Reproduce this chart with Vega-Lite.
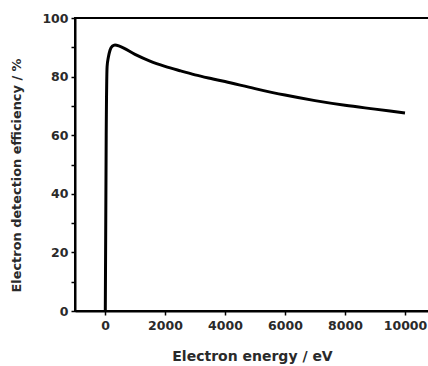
{
  "$schema": "https://vega.github.io/schema/vega-lite/v6.json",
  "autosize": "none",
  "padding": {"left": 75, "top": 18, "right": 0, "bottom": 55},
  "width": 354,
  "height": 293,
  "config": {
    "view": {"stroke": "black", "strokeWidth": 2},
    "font": "DejaVu Sans",
    "axis": {
      "labelFont": "DejaVu Sans",
      "labelFontWeight": "bold",
      "labelFontSize": 12.5,
      "labelColor": "#2a2a2a",
      "titleFont": "DejaVu Sans",
      "titleFontWeight": "bold",
      "titleColor": "#2a2a2a",
      "domainColor": "black",
      "domainWidth": 2,
      "tickColor": "black",
      "tickWidth": 1.5,
      "tickSize": 4,
      "grid": false
    }
  },
  "data": {
    "values": [
      {"energy": 10, "eff": 0},
      {"energy": 40, "eff": 60},
      {"energy": 70, "eff": 83.4},
      {"energy": 110, "eff": 86.5},
      {"energy": 167, "eff": 89},
      {"energy": 244, "eff": 90.4},
      {"energy": 333, "eff": 90.8},
      {"energy": 500, "eff": 90.3},
      {"energy": 1000, "eff": 87.6},
      {"energy": 1500, "eff": 85.3},
      {"energy": 2000, "eff": 83.5},
      {"energy": 2500, "eff": 82.0},
      {"energy": 3000, "eff": 80.6},
      {"energy": 3600, "eff": 79.2},
      {"energy": 4000, "eff": 78.3},
      {"energy": 5000, "eff": 75.9},
      {"energy": 6000, "eff": 73.7},
      {"energy": 7000, "eff": 71.8},
      {"energy": 8000, "eff": 70.2},
      {"energy": 9000, "eff": 68.9},
      {"energy": 10000, "eff": 67.6}
    ]
  },
  "mark": {"type": "line", "color": "black", "strokeWidth": 3, "interpolate": "monotone"},
  "encoding": {
    "x": {
      "field": "energy",
      "type": "quantitative",
      "scale": {"domain": [-1000, 10800], "nice": false, "zero": false},
      "axis": {
        "title": "Electron energy / eV",
        "titleFontSize": 14,
        "values": [0, 2000, 4000, 6000, 8000, 10000],
        "format": "d",
        "labelPadding": 4,
        "titlePadding": 18
      }
    },
    "y": {
      "field": "eff",
      "type": "quantitative",
      "scale": {"domain": [0, 100], "nice": false},
      "axis": {
        "title": "Electron detection efficiency / %",
        "titleFontSize": 12.9,
        "titleY": 157,
        "values": [0, 10, 20, 30, 40, 50, 60, 70, 80, 90, 100],
        "labelExpr": "datum.value % 20 == 0 ? datum.label : ''",
        "labelPadding": 3,
        "titlePadding": 18
      }
    }
  }
}
